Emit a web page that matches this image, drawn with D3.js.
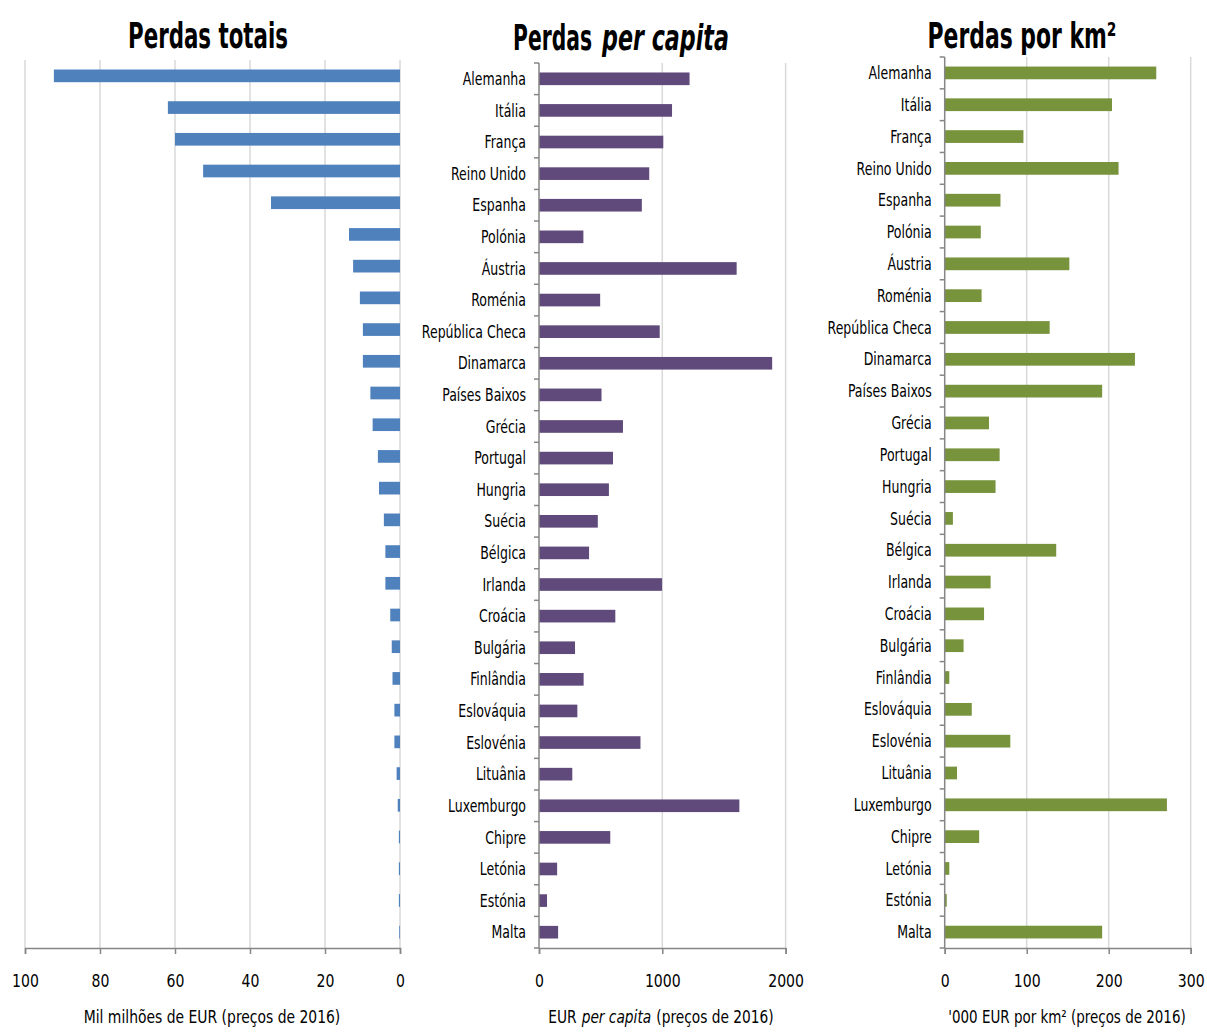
<!DOCTYPE html>
<html>
<head>
<meta charset="utf-8">
<script src="https://cdn.jsdelivr.net/npm/d3@7"></script>
<style>
  body { margin: 0; background: #ffffff; }
  svg { display: block; }
  text { font-family: "Liberation Sans Narrow", "DejaVu Sans Condensed", "Roboto", sans-serif; fill: #000; }
</style>
</head>
<body>
<svg id="svg" width="1207" height="1032"></svg>
<script>
// categorias (ordem do gráfico)
const countries = ['Alemanha', 'Itália', 'França', 'Reino Unido', 'Espanha', 'Polónia', 'Áustria',
  'Roménia', 'República Checa', 'Dinamarca', 'Países Baixos', 'Grécia', 'Portugal', 'Hungria',
  'Suécia', 'Bélgica', 'Irlanda', 'Croácia', 'Bulgária', 'Finlândia', 'Eslováquia', 'Eslovénia',
  'Lituânia', 'Luxemburgo', 'Chipre', 'Letónia', 'Estónia', 'Malta']

// mil milhões de EUR
const totalLosses = [92.3, 61.9, 60.0, 52.5, 34.4, 13.6, 12.5, 10.7, 9.9, 9.9, 7.9, 7.3, 5.9, 5.6,
  4.3, 3.9, 3.9, 2.6, 2.2, 2.0, 1.5, 1.5, 0.9, 0.6, 0.3, 0.3, 0.3, 0.2]

// EUR per capita
const perCapita = [1221, 1079, 1008, 894, 834, 360, 1603, 496, 979, 1891, 507, 681, 600, 567,
  477, 406, 998, 619, 292, 362, 311, 823, 270, 1625, 578, 147, 65, 155]

// '000 EUR por km2
const perKm2 = [258, 204, 96, 212, 68, 44, 152, 45, 128, 232, 192, 54, 67, 62,
  10, 136, 56, 48, 23, 5.6, 33, 80, 15, 271, 42, 5.6, 2.5, 192]

const ticksTotal = [100, 80, 60, 40, 20, 0]
const ticksCapita = [0, 1000, 2000]
const ticksKm2 = [0, 100, 200, 300]

const svg = d3.select('#svg')
const gridColor = '#d9d9d9'
const axisColor = '#868686'
const axisY = 948
const titleY = 1023

// aperta o texto na horizontal (a fonte do original e mais estreita)
// f: fator fixo, ou target: largura final em px
function squeeze(sel, f, target) {
  sel.each(function () {
    const el = d3.select(this)
    const len = this.getComputedTextLength()
    const k = target ? target / len : f
    const x = +el.attr('x') || 0
    const y = +el.attr('y') || 0
    el.attr('x', 0).attr('y', 0)
      .attr('transform', 'translate(' + x + ',' + y + ') scale(' + k + ',1)')
    this.__w = len * k
  })
}

// ---------- painel 1: perdas totais (eixo invertido) ----------
const x1 = d3.scaleLinear().domain([0, 100]).range([400, 25])
const y1 = d3.scaleBand().domain(countries).range([60, axisY]).paddingInner(0.6).paddingOuter(0.3)

const p1 = svg.append('g')
p1.selectAll('line.grid')
  .data(ticksTotal)
  .enter()
  .append('line')
  .attr('x1', d => x1(d)).attr('x2', d => x1(d))
  .attr('y1', 60).attr('y2', axisY)
  .attr('stroke', gridColor).attr('stroke-width', 1.5)

p1.selectAll('rect')
  .data(countries)
  .enter()
  .append('rect')
  .attr('x', (d, i) => x1(totalLosses[i]))
  .attr('y', d => y1(d))
  .attr('width', (d, i) => x1(0) - x1(totalLosses[i]))
  .attr('height', y1.bandwidth())
  .attr('fill', '#4f81bd')

function bottomAxis(g, scale, ticks) {
  g.attr('transform', 'translate(0,' + axisY + ')')
    .call(d3.axisBottom(scale).tickValues(ticks).tickSize(6).tickPadding(21).tickFormat(d3.format('d')))
  g.select('.domain').attr('stroke', axisColor).attr('stroke-width', 1.5)
  g.selectAll('.tick line').attr('stroke', axisColor).attr('stroke-width', 1.5)
  g.selectAll('.tick text').attr('font-size', 17).attr('fill', '#000')
    .style('font-family', '"Liberation Sans Narrow", "DejaVu Sans Condensed", sans-serif')
  squeeze(g.selectAll('.tick text'), 0.92)
}

bottomAxis(p1.append('g'), x1, ticksTotal)

p1.append('text')
  .attr('x', 212).attr('y', titleY)
  .attr('text-anchor', 'middle')
  .attr('font-size', 17)
  .text('Mil milhões de EUR (preços de 2016)')
  .call(squeeze, 0.91)

p1.append('text')
  .attr('x', 208).attr('y', 48)
  .attr('text-anchor', 'middle')
  .attr('font-size', 36).attr('font-weight', 'bold')
  .text('Perdas totais')
  .call(squeeze, 1, 160)

// ---------- painéis 2 e 3 ----------
function categoryPanel(opts) {
  const x = d3.scaleLinear().domain(opts.domain).range([opts.x0, opts.x1])
  const y = d3.scaleBand().domain(countries).range([opts.top, axisY]).paddingInner(0.6).paddingOuter(0.3)
  const g = svg.append('g')

  g.selectAll('line.grid')
    .data(opts.ticks.slice(1))
    .enter()
    .append('line')
    .attr('x1', d => x(d)).attr('x2', d => x(d))
    .attr('y1', opts.top).attr('y2', axisY)
    .attr('stroke', gridColor).attr('stroke-width', 1.5)

  g.selectAll('rect')
    .data(countries)
    .enter()
    .append('rect')
    .attr('x', x(0))
    .attr('y', d => y(d))
    .attr('width', (d, i) => x(opts.values[i]) - x(0))
    .attr('height', y.bandwidth())
    .attr('fill', opts.color)

  // eixo das categorias
  g.append('line')
    .attr('x1', x(0)).attr('x2', x(0))
    .attr('y1', opts.top).attr('y2', axisY)
    .attr('stroke', axisColor).attr('stroke-width', 1.5)

  const bounds = d3.range(countries.length + 1).map(i => opts.top + i * y.step())
  g.selectAll('line.ctick')
    .data(bounds)
    .enter()
    .append('line')
    .attr('x1', x(0) - 5).attr('x2', x(0))
    .attr('y1', d => d).attr('y2', d => d)
    .attr('stroke', axisColor).attr('stroke-width', 1.5)

  const labels = g.selectAll('text.cat')
    .data(countries)
    .enter()
    .append('text')
    .attr('x', x(0) - 13)
    .attr('y', d => y(d) + y.bandwidth() / 2)
    .attr('dy', '0.36em')
    .attr('text-anchor', 'end')
    .attr('font-size', 17)
    .text(d => d)
  squeeze(labels, 0.82)

  bottomAxis(g.append('g'), x, opts.ticks)
  return g
}

const p2 = categoryPanel({ domain: [0, 2000], x0: 539, x1: 785.6, top: 63, ticks: ticksCapita, values: perCapita, color: '#604a7b' })
const p3 = categoryPanel({ domain: [0, 300], x0: 944.7, x1: 1190.7, top: 57, ticks: ticksKm2, values: perKm2, color: '#77933c' })

p2.append('text')
  .attr('x', 592).attr('y', 50)
  .attr('text-anchor', 'end')
  .attr('font-size', 36).attr('font-weight', 'bold')
  .text('Perdas')
  .call(squeeze, 1, 79)
p2.append('text')
  .attr('x', 602).attr('y', 50)
  .attr('font-size', 36).attr('font-weight', 'bold').attr('font-style', 'italic')
  .text('per capita')
  .call(squeeze, 1, 127)

// titulo do eixo do painel 2: tres pedacos lado a lado
const a2parts = [['EUR', 'normal'], ['per capita', 'italic'], ['(preços de 2016)', 'normal']]
const a2 = p2.selectAll('text.axt')
  .data(a2parts)
  .enter()
  .append('text')
  .attr('y', titleY)
  .attr('font-size', 17)
  .attr('font-style', d => d[1])
  .text(d => d[0])
squeeze(a2, 0.9)
const gap = 5
const widths = a2.nodes().map(n => n.__w)
const total = d3.sum(widths) + gap * (widths.length - 1)
let cursor = 661 - total / 2
a2.attr('transform', (d, i) => {
  const xx = cursor
  cursor += widths[i] + gap
  return 'translate(' + xx + ',' + titleY + ') scale(0.9,1)'
})

p3.append('text')
  .attr('x', 1022).attr('y', 48)
  .attr('text-anchor', 'middle')
  .attr('font-size', 36).attr('font-weight', 'bold')
  .text('Perdas por km²')
  .call(squeeze, 1, 189)

p3.append('text')
  .attr('x', 1067).attr('y', titleY)
  .attr('text-anchor', 'middle')
  .attr('font-size', 17)
  .text("'000 EUR por km² (preços de 2016)")
  .call(squeeze, 0.88)
</script>
</body>
</html>
